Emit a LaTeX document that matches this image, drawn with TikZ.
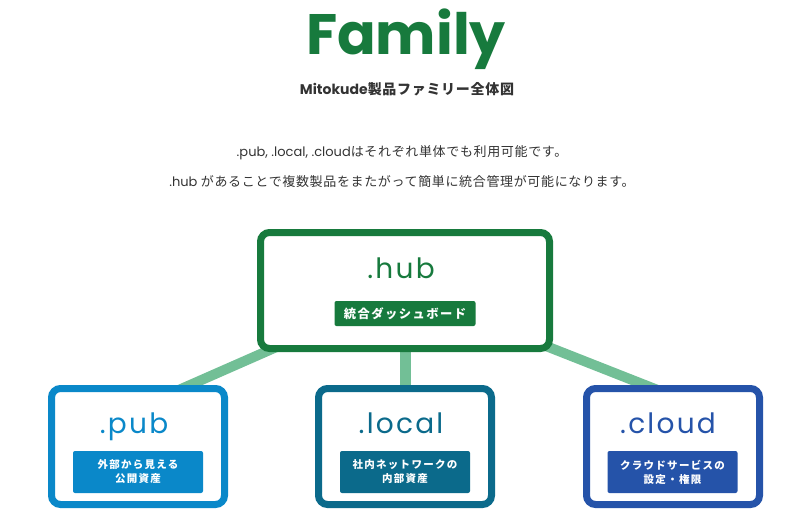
\documentclass[tikz,border=0pt]{standalone}
\usepackage{fontspec}
\setmainfont{Poppins}
\newfontfamily\cjk[LetterSpace=5]{Noto Sans CJK JP}
\newfontfamily\cjksp[LetterSpace=12]{Noto Sans CJK JP}
\newfontfamily\boxtitlefont[LetterSpace=8]{Poppins}
\usetikzlibrary{backgrounds}
\definecolor{hubgreen}{HTML}{177A3D}
\definecolor{lightgreen}{HTML}{72BF96}
\definecolor{pubblue}{HTML}{0A88C9}
\definecolor{localteal}{HTML}{0B6A8B}
\definecolor{cloudblue}{HTML}{2553A9}
\definecolor{darktext}{HTML}{333333}
\tikzset{
  prodbox/.style={draw=#1, line width=7pt, rounded corners=9pt, fill=white,
    minimum width=173pt, minimum height=116pt, inner sep=0pt},
  prodname/.style={text=#1, anchor=base, inner sep=0pt,
    font=\boxtitlefont\fontsize{28}{28}\selectfont},
  tagbox/.style={fill=#1, rounded corners=2pt, text=white, inner sep=0pt,
    minimum width=130pt, minimum height=42pt, align=center,
    font=\cjksp\bfseries\fontsize{10.5}{14}\selectfont},
  conn/.style={draw=lightgreen, line width=10pt},
  body/.style={text=darktext, inner sep=0pt, font=\fontsize{13}{13}\selectfont}
}
\begin{document}
\begin{tikzpicture}[x=1pt,y=-1pt]
\useasboundingbox (0,0) rectangle (800,524);
% title
\node[anchor=base, inner sep=0pt, text=hubgreen, font=\bfseries\fontsize{57}{57}\selectfont] (title) at (406,55) {Family};
\node[anchor=base, inner sep=0pt, text=darktext, font=\bfseries\fontsize{14}{14}\selectfont] (sub) at (407,95) {Mitokude{\cjk 製品ファミリー全体図}};
\node[body] (line1) at (402,153) {.pub, .local, .cloud{\cjk はそれぞれ単体でも利用可能です。}};
\node[body] (line2) at (402,182) {.hub {\cjk があることで複数製品をまたがって簡単に統合管理が可能になります。}};
% boxes
\node[prodbox=hubgreen, minimum width=289pt] (hub) at (405,290.5) {};
\node[prodbox=pubblue] (pub) at (138,446.5) {};
\node[prodbox=localteal] (local) at (405,446.5) {};
\node[prodbox=cloudblue] (cloud) at (673,446.5) {};
% names
\node[prodname=hubgreen] (hubname) at (401,278) {.hub};
\node[prodname=pubblue] (pubname) at (134,433) {.pub};
\node[prodname=localteal] (localname) at (401,433) {.local};
\node[prodname=cloudblue] (cloudname) at (668,433) {.cloud};
% tags
\node[tagbox=hubgreen, minimum width=141pt, minimum height=25pt, font=\cjksp\bfseries\fontsize{12.3}{14}\selectfont] (hubtag) at (405,313.5) {統合ダッシュボード};
\node[tagbox=pubblue] (pubtag) at (138,472) {外部から見える\\公開資産};
\node[tagbox=localteal] (localtag) at (405,472) {社内ネットワークの\\内部資産};
\node[tagbox=cloudblue] (cloudtag) at (672.5,472) {クラウドサービスの\\設定・権限};
% connectors
\coordinate (pubend) at (156,400);
\coordinate (cloudend) at (683,400);
\begin{scope}[on background layer]
\draw[conn] (hub.center) -- (pubend);
\draw[conn] (hub.center) -- (cloudend);
\draw[conn, line width=11pt] (hub.center) -- (local.center);
\end{scope}
\end{tikzpicture}
\end{document}
